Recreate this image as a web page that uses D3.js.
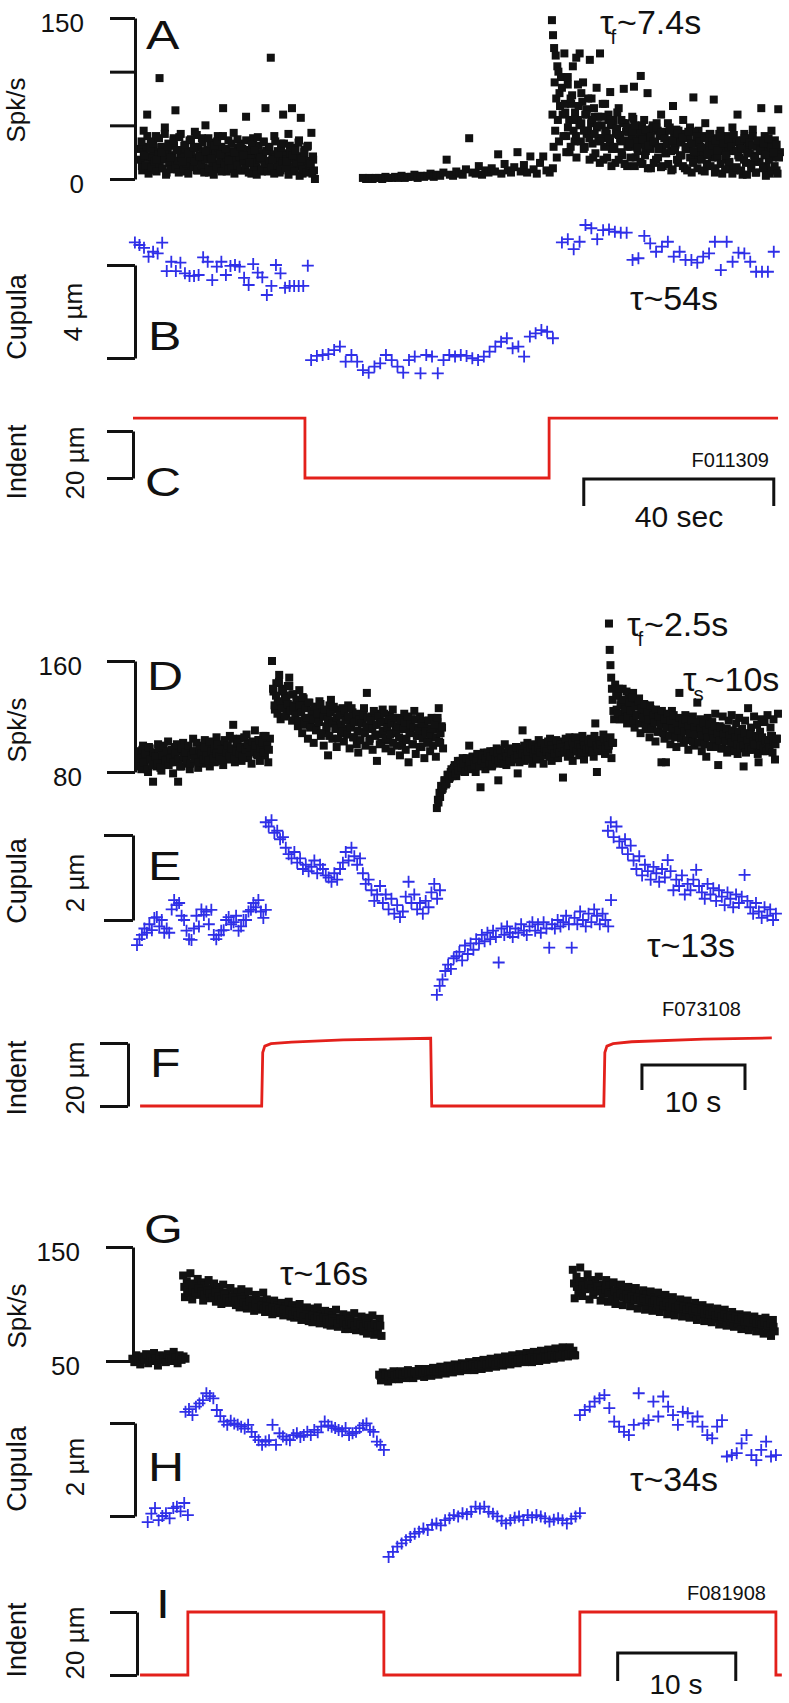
<!DOCTYPE html>
<html><head><meta charset="utf-8">
<script src="https://cdn.jsdelivr.net/npm/d3@7"></script>
<style>
body{margin:0;background:#fff}
svg{display:block}
text{font-family:"Liberation Sans",Arial,Helvetica,sans-serif;fill:#111}
</style>
</head><body>
<svg id="c" width="789" height="1703"></svg>
<script>
// ---------------- DATA ----------------
// Group 1 (A-C), time in s
const spkA1 = [28,12,45,20,60,8,35,15,25,40, 10,94,30,18,48,6,33,22,14,38, 64,9,27,42,16,31,7,24,36,12,
  20,44,8,29,17,38,11,50,23,6, 34,19,27,9,40,14,30,66,21,7, 36,12,25,43,10,29,18,33,8,22,
  58,15,27,5,38,20,11,31,24,7, 35,66,13,28,113,9,40,19,26,6, 33,60,15,24,42,8,66,29,12,21,
  36,57,5,27,16,31,9,43,18,0];
const spkA1b = [18,8,25,13,30,5,21,11,27,16, 7,23,14,29,10,19,4,26,15,9, 22,31,12,17,6,24,20,10,28,14,
  5,19,26,11,16,30,8,22,13,25, 6,18,27,10,21,15,4,24,12,29, 17,7,23,14,20,9,26,11,18,5,
  25,13,21,8,28,16,10,22,6,19, 27,12,15,4,24,18,9,21,14,26, 7,17,11,23,5,20,13,25,8,16,
  22,10,18,4,24,12,19,7,15,21, 3,14,9,20,6,17,11,13,5,8];
const spkA1c = [35,22,40,28,33,18,38,25,42,30, 20,36,27,39,16,32,24,37,29,41, 21,34,26,38,19,31,35,23,40,28,
  17,33,25,37,30,22,36,15,32,27, 39,20,34,26,30,18,35,24,29,33, 16,31,22,27,34,19,25,30,14,21];
const spkA2 = [1,0,1,0,1,1,0,2,1,1, 2,1,3,1,2,2,4,1,3,2, 3,5,2,4,3,6,18,4,3,7, 5,4,9,38,6,5,12,4,8,6,
  10,7,23,5,14,8,6,11,25,7, 13,6,21,9,5,15,21,8,6,10];
const spkA3on = [148,60,134,30,122,90,45,115,75,20,105,55,100,35,80,68];
const spkA3 = [95,60,117,40,88,25,70,105,35,113, 55,117,80,90,30,65,45,111,75,20, 58,85,38,117,50,18,70,42,60,81,
  28,55,15,47,66,35,22,84,52,12, 44,30,58,86,20,48,38,96,14,55, 26,80,42,10,50,33,18,45,28,60,
  12,40,24,52,35,8,68,30,46,15, 38,22,55,10,42,28,48,6,76,33, 18,45,25,8,38,52,14,30,42,20,
  74,10,35,26,45,5,32,18,40,12, 28,48,8,36,60,20,30,4,42,15, 25,38,10,46,22,6,34,16,66,28,
  40,12,30,5,45,20,36,8,65,25];
const spkA3b = [85,40,70,25,95,55,30,78,45,62,20,88,50,35,72, 28,60,42,75,18,52,33,66,24,48,58,15,38,70,30,
  45,20,55,35,12,50,28,42,62,18,38,25,52,14,44, 30,48,20,40,56,12,35,26,45,16,50,32,22,42,10,
  38,28,47,15,34,52,20,40,11,30,44,24,36,14,48, 26,9,40,32,18,45,22,35,12,42,28,8,38,20,33,
  15,44,25,10,36,30,18,40,7,28,22,34,12,38,26, 6,32,20,42,14,28,36,9,24,30,16,38,5,26,34,
  11,22,30,8,36,18,28,4,32,24,14,40,20,6,30, 16,26,35,10,22,3,28,18,32,8,24,12,30,5,20];
const spkA3c = [62,48,75,55,40,68,52,45,60,38, 55,42,50,35,58,44,38,52,30,47, 41,55,36,48,33,44,50,29,42,37,
  46,31,40,35,48,28,43,38,32,45, 36,27,42,34,39,30,44,33,26,40, 35,29,38,24,42,31,36,27,40,33,
  22,37,30,41,26,35,28,38,24,34, 31,20,36,27,33,23,38,29,25,32];
const spkA_times = [[1.5,38.3],[1.6,38.1],[1.8,37.9],[48.4,88.4],[88.2,89.9],[90.1,136.2],[90.3,136.0],[91.0,135.5]];

const cupB1 = [4.97,4.86,4.74,4.36,4.57,4.5,4.96,3.74,4.14,3.74,4.1,3.64,3.53,3.53,3.57,4.33,4.14,3.35,3.93,4.14,
  3.57,3.96,4.0,3.93,3.45,3.14,4.04,3.67,3.47,2.71,3.1,4.0,3.64,3.02,3.1,3.1,3.1,3.1,3.97];
const cupB2 = [-0.09,0.09,0.13,0.17,0.34,0.49,-0.16,0.13,-0.16,-0.52,-0.63,-0.37,-0.23,0.13,-0.09,-0.37,-0.63,-0.09,0.06,-0.66,
  0.13,0.06,-0.66,-0.09,0.13,0.06,0.13,0.09,-0.01,-0.09,0.06,0.27,0.49,0.7,0.85,0.42,0.49,0.06,0.92,1.06,1.2,1.13,0.85];
const cupB3 = [4.97,5.11,4.68,5.0,5.72,5.58,5.11,5.5,5.53,5.43,5.39,5.39,4.22,4.29,5.25,4.93,4.57,4.79,5.0,4.36,
  4.57,4.22,4.22,4.1,4.36,4.5,5.0,3.78,5.0,4.14,4.53,4.5,4.14,3.71,3.71,3.71,4.57];
const cupB_times = [[0.4,36.8],[37.5,88.4],[90.3,134.9]];

const indC = [[0,25.5],[36.2,25.5],[36.2,0],[87.6,0],[87.6,25.5],[135.8,25.5]];

// Group 2 (D-F)
const spkD1 = [88,95,82,99,86,92,80,97,90,73, 94,84,100,88,81,96,91,85,102,87, 93,79,98,89,73,95,84,101,90,86,
  97,82,92,104,88,95,83,99,91,86, 103,89,96,84,100,92,87,105,94,88, 98,85,102,93,89,106,96,114,87,100,
  92,104,88,98,95,107,90,101,86,97, 110,93,103,88,99,106,92,100,87,104];
const spkD1b = [90,84,96,87,93,82,98,89,85,94, 91,86,97,83,92,99,88,95,85,90, 96,87,93,100,89,84,97,91,94,88,
  99,86,92,95,90,101,87,96,93,89, 98,92,88,102,95,90,97,93,100,91, 96,89,103,94,99,92,97,104,90,95,
  101,93,98,91,105,96,100,94,98,102, 95,99,92,103,97,101,94,106,99,96];
const spkD2 = [160,138,125,144,130,150,118,140,127,135, 122,142,148,128,117,136,124,131,113,139,
  126,108,133,119,128,104,130,115,122,101, 127,112,118,131,106,124,99,120,110,92,
  128,132,104,117,125,98,113,121,108,126, 102,119,111,128,97,115,123,105,118,100,
  94,121,109,116,126,99,137,112,104,120, 96,114,122,88,107,118,101,125,110,97,
  116,103,121,95,125,108,113,99,119,92, 111,104,122,96,115,87,109,118,100,124,
  93,112,106,120,98,114,90,108,117,102, 95,119,105,111,91,116,126,101,113,97];
const spkD2b = [140,128,135,122,145,131,126,138,120,133,129,142,124,136,127,
  121,132,117,128,123,134,114,126,119,130,112,124,118,127,110,
  122,116,129,108,120,125,113,118,106,123,115,127,111,119,104,
  121,114,109,124,117,107,120,112,126,105,116,122,110,118,103,
  115,121,108,113,119,102,117,111,124,106,114,120,100,116,109,
  122,104,112,118,107,115,101,119,110,113,105,117,99,111,116,
  103,120,108,114,100,112,118,106,110,98,115,104,113,109,101,
  117,107,111,99,114,105,119,102,108,112];
const spkD3 = [54,58,62,67,70,74,72,78,76,82, 79,85,77,88,81,86,90,80,87,84, 99,83,91,86,80,93,88,69,85,94,
  82,90,87,95,84,92,89,97,74,86, 93,88,100,85,91,96,87,94,89,98, 79,92,97,110,88,95,101,90,93,86,
  99,94,89,103,91,97,86,100,95,92, 104,88,98,93,101,90,96,102,76,94, 99,91,105,95,88,100,97,103,92,98,
  106,89,101,96,94,104,99,91,115,80, 102,95,98,107,93,100,96,104,90,101];
const spkD3b = [60,65,70,68,74,71,78,75,80,77, 83,79,85,81,88,83,86,80,90,84, 87,82,91,85,89,93,84,88,92,86,
  90,94,87,91,85,95,89,93,88,96, 90,86,94,91,97,88,93,95,90,98, 92,87,96,93,99,91,95,89,97,100,
  93,96,90,98,94,101,92,97,95,102, 91,99,96,93,103,97,94,100,98,95, 104,96,99,93,101,97,105,95,100,98,
  94,102,99,96,103,97,101,95,106,99, 97,103,100,96,104,98,102,99,105,101];
const spkD4on = [187,168,157,148,140,132,124,118];
const spkD4 = [143,125,136,118,131,140,122,128,115,134, 126,119,137,112,129,121,133,108,124,117,
  128,111,120,105,125,114,118,102,122,109, 116,87,121,104,87,113,119,100,124,107,
  112,98,118,137,106,115,101,121,110,96, 117,104,120,99,112,130,107,118,95,114,
  103,91,119,108,98,116,105,122,100,85, 113,97,120,106,110,94,117,102,121,99,
  108,115,93,119,104,111,84,117,101,126, 96,112,106,120,98,114,87,109,118,95,
  116,103,121,99,112,106,118,89,104,122];
const spkD4b = [135,122,140,128,118,132,125,138,120,130, 124,134,117,127,121,131,115,126,119,129,
  113,123,118,128,111,121,116,125,109,120, 114,124,108,118,112,122,106,117,111,121,
  105,115,110,119,104,114,109,118,103,113, 108,117,102,112,107,116,101,111,106,115,
  100,110,105,114,99,109,104,113,98,108, 103,112,97,107,102,111,96,106,101,110,
  95,105,100,109,97,104,99,108,94,103, 98,107,96,102,100,106,93,104,99,105,
  97,103,95,101,98,106,94,102,100,104];
const spkD_times = [[0.1,12.9],[0.2,12.8],[13.1,29.7],[13.2,29.6],[29.1,46.2],[29.2,46.1],[45.8,46.3],[46.4,62.2],[46.5,62.1]];

const cupE1 = [-0.59,-0.45,-0.35,-0.2,-0.3,-0.1,-0.24,0.05,0.07,-0.15,0.0,-0.3,-0.2,-0.3,0.25,0.47,0.35,0.4,0.1,0.0,
  -0.25,-0.45,-0.47,-0.2,0.1,-0.15,0.25,0.12,0.2,-0.1,0.24,-0.35,-0.45,-0.35,-0.25,-0.24,0.0,0.07,-0.1,-0.05,
  0.1,-0.25,-0.15,0.0,0.0,0.2,0.24,0.4,0.3,0.47,0.2,0.05,0.24];
const cupE2 = [2.3,2.2,2.35,2.05,2.1,1.9,1.95,1.7,1.55,1.45,1.6,1.35,1.45,1.2,1.3,1.15,1.25,1.4,1.1,1.3,
  1.2,1.05,1.0,0.9,1.1,0.95,1.2,1.35,1.6,1.4,1.7,1.5,1.3,1.45,1.1,0.85,0.95,0.7,0.45,0.6,
  0.8,0.4,0.6,0.25,0.5,0.15,0.35,0.07,0.2,0.55,0.9,0.4,0.6,0.25,0.4,0.15,0.45,0.3,0.65,0.85,0.5,0.7];
const cupE3 = [-1.76,-1.55,-1.4,-1.2,-1.05,-1.15,-0.9,-0.85,-0.75,-0.95,-0.6,-0.8,-0.55,-0.7,-0.45,-0.55,-0.35,-0.5,-0.3,-0.45,
  -0.25,-0.4,-1.0,-0.2,-0.35,-0.15,-0.3,-0.4,-0.2,-0.3,-0.1,-0.25,-0.35,-0.15,-0.05,-0.25,-0.1,-0.3,-0.05,-0.2,
  -0.65,-0.1,-0.2,0.0,-0.15,-0.05,0.1,-0.1,-0.65,0.05,-0.1,0.2,0.0,-0.15,0.15,-0.05,0.25,0.1,-0.1,0.15,0.0,-0.15,0.47];
const cupE4 = [2.1,2.3,1.95,2.2,1.85,1.7,1.9,1.55,1.75,1.4,1.2,1.5,1.05,1.3,1.15,0.95,1.25,1.1,0.9,1.2,
  1.0,1.41,1.15,0.7,0.95,0.8,1.05,0.6,0.85,0.7,0.95,1.18,0.8,0.65,0.5,0.85,0.6,0.75,0.45,0.7,
  0.55,0.35,0.65,0.5,0.3,0.6,0.4,0.55,1.06,0.45,0.3,0.15,0.4,0.2,0.05,0.3,0.1,0.25,0.0,0.15];
const cupE_times = [[0.0,12.5],[12.5,29.4],[29.1,46.0],[45.7,62.0]];

const indF = [[0.3,0],[12.1,0],[12.2,17],[12.4,19],[13,19.8],[15,20.3],[20,21],[28.5,21.5],[28.6,0],
  [45.3,0],[45.4,17],[45.6,19],[46.2,19.8],[48,20.4],[55,21.2],[61.6,21.6]];

// Group 3 (G-I)
const spkG1 = [52,49,55,50,47,54,51,56,48,53,50,57,52,46,55,51,54,49,56,52,50,58,53,48,55,51,54,52];
const spkG2 = [125,106,120,110,127,104,118,112,122,108, 119,103,116,109,121,105,114,118,102,115,
  112,100,117,106,110,101,114,104,111,99, 109,97,113,102,107,96,111,100,104,94,
  108,95,103,99,110,93,104,97,101,91, 103,92,99,95,101,90,98,94,102,89,
  99,88,96,91,100,86,94,90,97,85, 96,84,93,88,97,83,91,87,94,82,
  93,81,90,85,95,80,88,84,91,78, 90,78,87,82,92,77,85,81,89,76, 88,74,84,79,90,73,83,77,87,72];
const spkG2b = [115,112,117,113,110,114,111,108,112,109, 106,110,107,104,108,105,102,106,103,100,
  104,101,99,102,98,100,97,99,96,98, 95,97,94,96,93,95,92,94,91,93,
  90,92,89,91,88,90,87,89,86,88, 86,84,87,85,83,86,84,82,85,83, 81,84,82,80,83,81,79,82,80,81];
const spkG3 = [38,33,40,35,37,32,39,34,41,36, 38,34,41,36,39,35,42,37,40,35, 41,37,43,38,40,36,43,39,42,37,
  44,39,42,38,45,40,43,39,46,41, 44,40,47,42,45,41,48,43,46,42, 49,44,47,42,50,45,48,43,51,46,
  49,44,52,47,50,45,53,48,51,46, 54,48,52,47,55,49,53,48,56,50, 54,49,57,51,55,49,58,52,56,50,
  59,53,57,51,60,54,58,52,61,55, 59,53,62,56,60,54,62,57,59,55];
const spkG3b = [37,36,38,37,39,37,38,39,38,40, 39,40,41,39,41,40,42,41,42,43, 41,43,42,44,43,44,45,43,45,44,
  46,45,46,47,45,47,46,48,47,48, 49,47,49,48,50,49,50,51,49,51, 50,52,51,52,53,51,53,52,54,53,
  54,55,53,55,54,56,55,56,57,55];
const spkG4 = [130,105,124,110,132,107,120,114,126,104, 121,108,118,111,124,103,117,109,121,102,
  116,105,119,100,113,108,117,99,112,104, 115,98,110,103,114,96,109,101,112,95,
  108,99,111,94,106,98,110,93,104,97, 108,91,103,96,106,90,101,95,104,89,
  100,93,103,88,98,92,101,86,96,90, 99,85,94,89,97,84,93,87,96,82,
  92,86,95,81,90,85,93,80,89,83, 91,78,88,82,90,77,86,80,89,76, 87,79,85,74,88,78,84,72,86,76];
const spkG4b = [118,115,120,116,113,117,114,111,115,112, 109,113,110,108,111,107,109,106,108,105,
  107,104,106,103,105,102,104,101,103,100, 102,99,101,98,100,97,99,96,98,95,
  97,94,96,93,95,92,94,91,93,90, 92,89,91,88,90,87,89,86,88,85, 87,84,86,83,85,82,84,81,83,80];
const spkG_times = [[0.2,4.7],[4.5,21.3],[4.6,21.2],[21.1,37.7],[21.2,37.6],[37.5,54.6],[37.6,54.5]];

const cupH1 = [-0.13,0.05,0.17,-0.09,0.0,0.06,-0.05,0.17,0.2,0.1,0.28,0.02];
const cupH2 = [2.24,2.3,2.17,2.35,2.42,2.49,2.64,2.58,2.53,2.28,2.15,2.03,1.96,2.05,1.99,1.96,1.92,1.88,1.96,1.81,
  1.7,1.63,1.53,1.6,1.63,1.96,1.53,1.78,1.71,1.65,1.63,1.74,1.78,1.7,1.74,1.81,1.74,1.85,1.8,1.92,
  2.03,1.95,1.92,1.89,1.85,1.82,1.89,1.74,1.78,1.81,1.89,1.95,1.99,1.85,1.81,1.6,1.53,1.42];
const cupH3 = [-0.88,-0.77,-0.66,-0.59,-0.52,-0.45,-0.38,-0.34,-0.27,-0.3,-0.19,-0.16,-0.2,-0.09,-0.05,0.02,-0.01,0.06,0.04,0.09,
  0.2,0.16,0.2,0.09,0.05,-0.01,-0.1,-0.16,-0.09,-0.04,-0.01,-0.09,0.02,-0.03,0.02,-0.01,-0.05,-0.12,-0.08,-0.05,
  -0.09,-0.16,-0.06,-0.01,0.06];
const cupH4 = [2.17,2.28,2.35,2.46,2.53,2.6,2.32,2.03,1.92,1.81,1.74,1.96,2.64,1.99,2.06,2.46,2.14,2.57,2.35,2.17,
  1.96,2.24,2.21,2.03,2.14,1.92,1.74,1.67,1.92,2.06,1.28,1.31,1.35,1.56,1.74,1.31,1.2,1.42,1.6,1.28,1.31];
const cupH_times = [[1.5,4.9],[4.7,21.5],[21.9,38.1],[38.1,54.7]];

const indI = [[0.85,0],[4.9,0],[4.9,20],[21.5,20],[21.5,0],[38.1,0],[38.1,20],[54.7,20],[54.7,0],[55.2,0]];

// axis ticks / labels
const ticksA = [0,50,100,150], labelsA = {0:"0",150:"150"};
const ticksD = [80,160], labelsD = {80:"80",160:"160"};
const ticksG = [50,150], labelsG = {50:"50",150:"150"};

// ---------------- DRAW ----------------
const svg = d3.select("#c");
const BLACK = "#111", BLUE = "#2f2fe8", RED = "#e3201b";

function squares(x, y, vals, t0, t1, size){
  const n = vals.length;
  svg.append("g").selectAll("rect").data(vals).join("rect")
    .attr("x",(d,i)=>x(t0+(t1-t0)*i/(n-1))-size/2)
    .attr("y",d=>y(d)-size/2)
    .attr("width",size).attr("height",size).attr("fill",BLACK);
}
function crosses(x, y, vals, t0, t1, h){
  const n = vals.length;
  svg.append("g").selectAll("path").data(vals).join("path")
    .attr("transform",(d,i)=>`translate(${x(t0+(t1-t0)*i/(n-1))},${y(d)})`)
    .attr("d",`M${-h},0H${h}M0,${-h}V${h}`)
    .attr("stroke",BLUE).attr("stroke-width",1.8).attr("fill","none");
}
function trace(x, y, pts){
  svg.append("path").datum(pts)
    .attr("d",d3.line().x(d=>x(d[0])).y(d=>y(d[1])))
    .attr("fill","none").attr("stroke",RED).attr("stroke-width",2.8);
}
function leftAxis(xpos, y, ticks, labels, tickLen, pad){
  const g = svg.append("g").attr("transform",`translate(${xpos},0)`)
    .call(d3.axisLeft(y).tickValues(ticks).tickSize(tickLen).tickSizeOuter(0).tickPadding(pad)
      .tickFormat(d=>labels[d]||""));
  g.select(".domain").attr("stroke",BLACK).attr("stroke-width",3);
  g.selectAll(".tick line").attr("stroke",BLACK).attr("stroke-width",3);
  g.selectAll(".tick text").attr("font-size",26).attr("dy","0.5em")
    .style("font-family",'"Liberation Sans",Arial,sans-serif').attr("fill",BLACK);
}
function scaleBar(x, t0, t1, yb, drop){
  svg.append("path")
    .attr("d",`M${x(t0)},${yb+drop}V${yb}H${x(t1)}V${yb+drop}`)
    .attr("fill","none").attr("stroke",BLACK).attr("stroke-width",3);
}
function label(txt, x, y, size, anchor){
  svg.append("text").attr("x",x).attr("y",y).attr("font-size",size)
    .attr("text-anchor",anchor||"start").text(txt);
}
function vlabel(txt, x, y, size){
  svg.append("text").attr("transform",`translate(${x},${y}) rotate(-90)`)
    .attr("font-size",size).attr("text-anchor","middle").attr("dominant-baseline","central").text(txt);
}
function tauLabel(x, y, sub, rest, size){
  const t = svg.append("text").attr("x",x).attr("y",y).attr("font-size",size);
  t.append("tspan").text("τ");
  if(sub){ t.append("tspan").attr("font-size",size*0.6).attr("dx",-3).attr("dy",size*0.3).text(sub);
           t.append("tspan").attr("dy",-size*0.3).attr("dx",1).text(rest); }
  else t.append("tspan").text(rest);
}
function panelLetter(txt, x, y){
  svg.append("text").attr("transform",`translate(${x},${y}) scale(1.25,1)`)
    .attr("font-size",40).text(txt);
}

// ----- Group 1 -----
const x1 = d3.scaleLinear().domain([0,136]).range([133,779]);
const yA = d3.scaleLinear().domain([0,150]).range([179,18]);
const yB = d3.scaleLinear().domain([0,4]).range([358,265]);
const yC = d3.scaleLinear().domain([0,20]).range([478,431]);

const segA = [spkA1, spkA1b, spkA1c, spkA2, spkA3on, spkA3, spkA3b, spkA3c];
segA.forEach((v,k)=>squares(x1,yA,v,spkA_times[k][0],spkA_times[k][1],8));
leftAxis(135, yA, ticksA, labelsA, 25, 26);
vlabel("Spk/s", 16, 110, 26);
panelLetter("A", 146, 49);
tauLabel(600, 34, "f", "~7.4s", 34);

[cupB1,cupB2,cupB3].forEach((v,k)=>crosses(x1,yB,v,cupB_times[k][0],cupB_times[k][1],6));
leftAxis(135, yB, [0,4], {}, 28, 0);
vlabel("Cupula", 17, 317, 27);
vlabel("4 µm", 73, 312, 26);
panelLetter("B", 148, 350);
tauLabel(630, 310, null, "~54s", 34);

trace(x1, yC, indC);
leftAxis(133, yC, [0,20], {}, 26, 0);
vlabel("Indent", 17, 462, 27);
vlabel("20 µm", 75, 463, 26);
panelLetter("C", 145, 496);
label("F011309", 769, 467, 20, "end");
scaleBar(x1, 94.9, 134.9, 479, 27);
label("40 sec", 679, 527, 30, "middle");

// ----- Group 2 -----
const x2 = d3.scaleLinear().domain([0,62.3]).range([137,779]);
const yD = d3.scaleLinear().domain([80,160]).range([772,661]);
const yE = d3.scaleLinear().domain([0,2]).range([920,835]);
const yF = d3.scaleLinear().domain([0,20]).range([1106,1043]);

[spkD1,spkD1b,spkD2,spkD2b,spkD3,spkD3b,spkD4on,spkD4,spkD4b]
  .forEach((v,k)=>squares(x2,yD,v,spkD_times[k][0],spkD_times[k][1],8));
leftAxis(135, yD, ticksD, labelsD, 28, 25);
vlabel("Spk/s", 17, 730, 26);
panelLetter("D", 147, 690);
tauLabel(627, 636, "f", "~2.5s", 34);
tauLabel(683, 691, "s", "~10s", 34);

[cupE1,cupE2,cupE3,cupE4].forEach((v,k)=>crosses(x2,yE,v,cupE_times[k][0],cupE_times[k][1],6));
leftAxis(133, yE, [0,2], {}, 29, 0);
vlabel("Cupula", 17, 881, 27);
vlabel("2 µm", 75, 883, 26);
panelLetter("E", 148, 880);
tauLabel(647, 957, null, "~13s", 34);

trace(x2, yF, indF);
leftAxis(128, yF, [0,20], {}, 28, 0);
vlabel("Indent", 17, 1078, 27);
vlabel("20 µm", 75, 1078, 26);
panelLetter("F", 150, 1077);
label("F073108", 741, 1016, 20, "end");
scaleBar(x2, 49.0, 59.0, 1065, 25);
label("10 s", 693, 1112, 30, "middle");

// ----- Group 3 -----
const x3 = d3.scaleLinear().domain([0,55.3]).range([130,783]);
const yG = d3.scaleLinear().domain([50,150]).range([1361,1247]);
const yH = d3.scaleLinear().domain([0,2]).range([1516,1423]);
const yI = d3.scaleLinear().domain([0,20]).range([1675,1612]);

[spkG1,spkG2,spkG2b,spkG3,spkG3b,spkG4,spkG4b].forEach((v,k)=>squares(x3,yG,v,spkG_times[k][0],spkG_times[k][1],8));
leftAxis(133, yG, ticksG, labelsG, 27, 26);
vlabel("Spk/s", 17, 1316, 26);
panelLetter("G", 144, 1243);
tauLabel(280, 1285, null, "~16s", 34);

[cupH1,cupH2,cupH3,cupH4].forEach((v,k)=>crosses(x3,yH,v,cupH_times[k][0],cupH_times[k][1],6));
leftAxis(135, yH, [0,2], {}, 25, 0);
vlabel("Cupula", 17, 1469, 27);
vlabel("2 µm", 75, 1467, 26);
panelLetter("H", 148, 1481);
tauLabel(630, 1491, null, "~34s", 34);

trace(x3, yI, indI);
leftAxis(137, yI, [0,20], {}, 27, 0);
vlabel("Indent", 17, 1640, 27);
vlabel("20 µm", 75, 1643, 26);
panelLetter("I", 156, 1618);
label("F081908", 766, 1600, 20, "end");
scaleBar(x3, 41.3, 51.3, 1653, 28);
label("10 s", 676, 1694, 28, "middle");
</script>
</body></html>
